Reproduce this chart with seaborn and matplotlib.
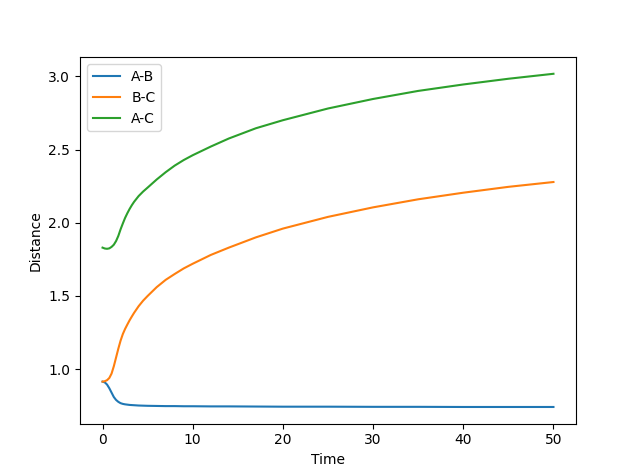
import pandas as pd
import matplotlib
matplotlib.use("Agg")
import matplotlib.pyplot as plt
import seaborn as sns

# values
time = [0, 0.25, 0.5, 0.75, 1.0, 1.25, 1.5, 1.75, 2.0, 2.25, 2.5, 2.75, 3.0, 3.25,
        3.5, 4.0, 4.5, 5.0, 6.0, 7.0, 8.0, 9.0, 10, 12, 14, 17, 20, 25, 30, 35, 40,
        45, 50]
ab = [0.915, 0.91, 0.895, 0.87, 0.84, 0.81, 0.79, 0.777, 0.768, 0.763, 0.76, 0.758,
      0.756, 0.755, 0.754, 0.752, 0.751, 0.75, 0.749, 0.748, 0.748, 0.747, 0.747,
      0.746, 0.746, 0.745, 0.744, 0.744, 0.743, 0.743, 0.742, 0.742, 0.742]
bc = [0.915, 0.918, 0.925, 0.94, 0.97, 1.02, 1.08, 1.14, 1.195, 1.24, 1.275, 1.305,
      1.334, 1.36, 1.385, 1.43, 1.468, 1.50, 1.56, 1.61, 1.65, 1.688, 1.72, 1.78,
      1.83, 1.90, 1.96, 2.04, 2.105, 2.16, 2.205, 2.245, 2.278]
ac = [1.83, 1.824, 1.822, 1.825, 1.835, 1.85, 1.875, 1.91, 1.955, 1.995, 2.033, 2.065,
      2.094, 2.12, 2.143, 2.182, 2.213, 2.24, 2.295, 2.345, 2.39, 2.428, 2.461, 2.52,
      2.575, 2.645, 2.70, 2.78, 2.845, 2.90, 2.944, 2.983, 3.017]
pairs = ["A-B", "B-C", "A-C"]

df = pd.concat([
    pd.DataFrame({"Time": time, "Distance": vals, "pair": name})
    for name, vals in zip(pairs, [ab, bc, ac])
])

fig, ax = plt.subplots(figsize=(6.4, 4.76), dpi=100)
sns.lineplot(data=df, x="Time", y="Distance", hue="pair", hue_order=pairs,
             palette=["#1f77b4", "#ff7f0e", "#2ca02c"], linewidth=1.5, ax=ax)
ax.set_xlabel("Time")
ax.set_ylabel("Distance")
ax.legend(loc="upper left")

fig.savefig("out.png", dpi=100)
